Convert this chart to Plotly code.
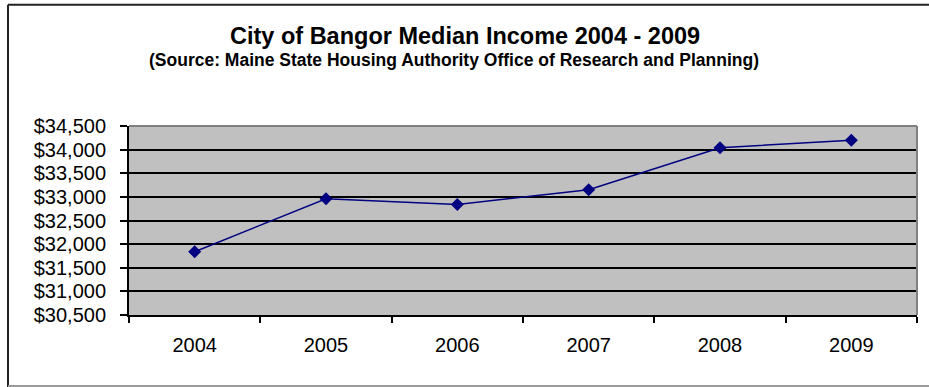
import plotly.graph_objects as go

years = ["2004", "2005", "2006", "2007", "2008", "2009"]
income = [31840, 32960, 32840, 33150, 34040, 34200]
y_ticks = [30500, 31000, 31500, 32000, 32500, 33000, 33500, 34000, 34500]
y_tick_labels = ["$30,500", "$31,000", "$31,500", "$32,000", "$32,500",
                 "$33,000", "$33,500", "$34,000", "$34,500"]

L, R, T, B = 129, 917, 126, 315
W, H = 929, 387

def px_x(p):
    return (p - L) / (R - L)

def px_y(p):
    return (B - p) / (B - T)

fig = go.Figure()
fig.add_trace(go.Scatter(
    x=years, y=income, mode="lines+markers",
    line=dict(color="#000080", width=1.5),
    marker=dict(symbol="diamond", size=10, color="#000080"),
    showlegend=False,
))

shapes = [
    dict(type="line", xref="paper", yref="paper", x0=0, x1=1, y0=1, y1=1,
         line=dict(color="#808080", width=2), layer="above"),
    dict(type="line", xref="paper", yref="paper", x0=1, x1=1, y0=0, y1=1,
         line=dict(color="#808080", width=2), layer="above"),
    dict(type="line", xref="paper", yref="paper", x0=px_x(8), x1=px_x(935),
         y0=px_y(4.7), y1=px_y(4.7), line=dict(color="#222222", width=2)),
    dict(type="line", xref="paper", yref="paper", x0=px_x(8), x1=px_x(8),
         y0=px_y(4.7), y1=px_y(390), line=dict(color="#222222", width=2)),
    dict(type="line", xref="paper", yref="paper", x0=px_x(8), x1=px_x(935),
         y0=px_y(386), y1=px_y(386), line=dict(color="#999999", width=2)),
]

annotations = [
    dict(text="<b>City of Bangor Median Income 2004 - 2009</b>", xref="paper", yref="paper",
         x=px_x(465), y=px_y(36), xanchor="center", yanchor="middle", showarrow=False,
         font=dict(family="Liberation Sans, Arial", size=23.5, color="black")),
    dict(text="<b>(Source: Maine State Housing Authority Office of Research and Planning)</b>",
         xref="paper", yref="paper",
         x=px_x(454), y=px_y(60), xanchor="center", yanchor="middle", showarrow=False,
         font=dict(family="Liberation Sans, Arial", size=17.5, color="black")),
]

fig.update_layout(
    width=W, height=H,
    margin=dict(l=L, r=W - R, t=T, b=H - B),
    paper_bgcolor="white",
    plot_bgcolor="#C0C0C0",
    shapes=shapes,
    annotations=annotations,
    font=dict(family="Liberation Sans, Arial", size=20, color="black"),
    xaxis=dict(
        type="category", tickson="boundaries", ticks="outside", ticklen=6,
        tickcolor="black", tickwidth=1.5, showgrid=False,
        showline=True, linecolor="black", linewidth=2,
        ticklabelstandoff=11, tickfont=dict(size=20),
        range=[-0.5, 5.5],
    ),
    yaxis=dict(
        range=[30500, 34500], tickvals=y_ticks, ticktext=y_tick_labels,
        ticks="outside", ticklen=7, tickcolor="black", tickwidth=1.5,
        showgrid=True, gridcolor="black", gridwidth=1.5,
        showline=True, linecolor="black", linewidth=2,
        zeroline=False, ticklabelstandoff=10, tickfont=dict(size=20),
    ),
)

fig.write_html("out.html")
